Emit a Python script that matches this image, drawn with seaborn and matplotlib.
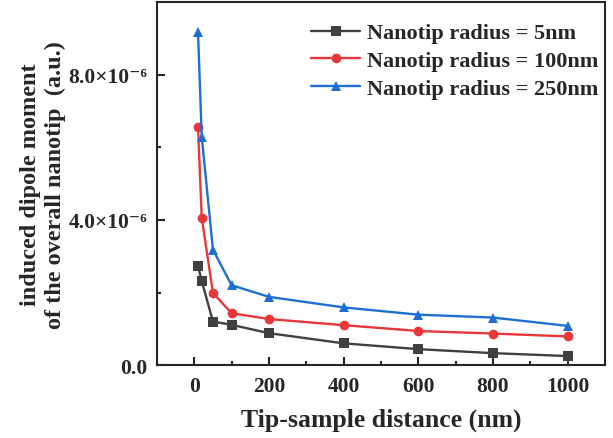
import pandas as pd
import seaborn as sns
import numpy as np
import matplotlib
matplotlib.use("Agg")
import matplotlib.pyplot as plt
from matplotlib.ticker import MultipleLocator, FixedLocator, FuncFormatter

# data
distance = [10, 20, 50, 100, 200, 400, 600, 800, 1000]
r5 = [2.73, 2.32, 1.20, 1.11, 0.88, 0.60, 0.44, 0.33, 0.25]
r100 = [6.56, 4.06, 1.99, 1.43, 1.27, 1.10, 0.94, 0.87, 0.79]
r250 = [9.18, 6.29, 3.18, 2.20, 1.88, 1.59, 1.39, 1.31, 1.08]
labels = ["Nanotip radius = 5nm", "Nanotip radius = 100nm", "Nanotip radius = 250nm"]

rows = []
for lab, vals in zip(labels, [r5, r100, r250]):
    for d, v in zip(distance, vals):
        rows.append({"d": d, "p": v * 1e-6, "radius": lab})
df = pd.DataFrame(rows)

sns.set_style("ticks")
plt.rcParams["font.family"] = ["Liberation Serif", "DejaVu Serif"]
plt.rcParams["font.weight"] = "bold"

fig = plt.figure(figsize=(6.13, 4.39), dpi=100)
ax = fig.add_axes([0.256, 0.166, 0.731, 0.827])

colors = ["#404040", "#e8373a", "#1f6fd3"]
sns.lineplot(data=df, x="d", y="p", hue="radius", style="radius",
             palette=colors, markers=["s", "o", "^"], dashes=False,
             linewidth=1.7, markersize=7, markeredgewidth=0, ax=ax)

ax.set_xlim(-100, 1100)
ax.set_ylim(0, 1e-5)
ax.xaxis.set_major_locator(MultipleLocator(200))
ax.xaxis.set_minor_locator(MultipleLocator(100))
ax.yaxis.set_major_locator(FixedLocator([0, 4e-6, 8e-6]))
ax.yaxis.set_minor_locator(FixedLocator([2e-6, 6e-6]))

def yfmt(v, pos):
    if v == 0:
        return "0.0"
    return "%.1f×10⁻⁶" % (v * 1e6)
ax.yaxis.set_major_formatter(FuncFormatter(yfmt))

ax.tick_params(which="both", direction="in", width=1.5, labelsize=15.5)
ax.tick_params(which="major", length=6)
ax.tick_params(which="minor", length=3)
ax.tick_params(axis="x", pad=8)
ax.tick_params(axis="y", pad=7)
for s in ax.spines.values():
    s.set_linewidth(1.5)

ax.set_xlabel("Tip-sample distance (nm)", fontsize=18.5, fontweight="bold", labelpad=8)
ax.set_ylabel("induced dipole moment\nof the overall nanotip  (a.u.)", fontsize=17.5,
              fontweight="bold", linespacing=1.2, labelpad=2)

leg = ax.legend(loc="upper right", bbox_to_anchor=(0.985, 0.943), frameon=False,
                fontsize=16, handlelength=2.2, borderaxespad=0, borderpad=0,
                labelspacing=0.33, handletextpad=0.3)
for t in leg.get_texts():
    t.set_fontweight("bold")

fig.savefig("out.png", dpi=100)
